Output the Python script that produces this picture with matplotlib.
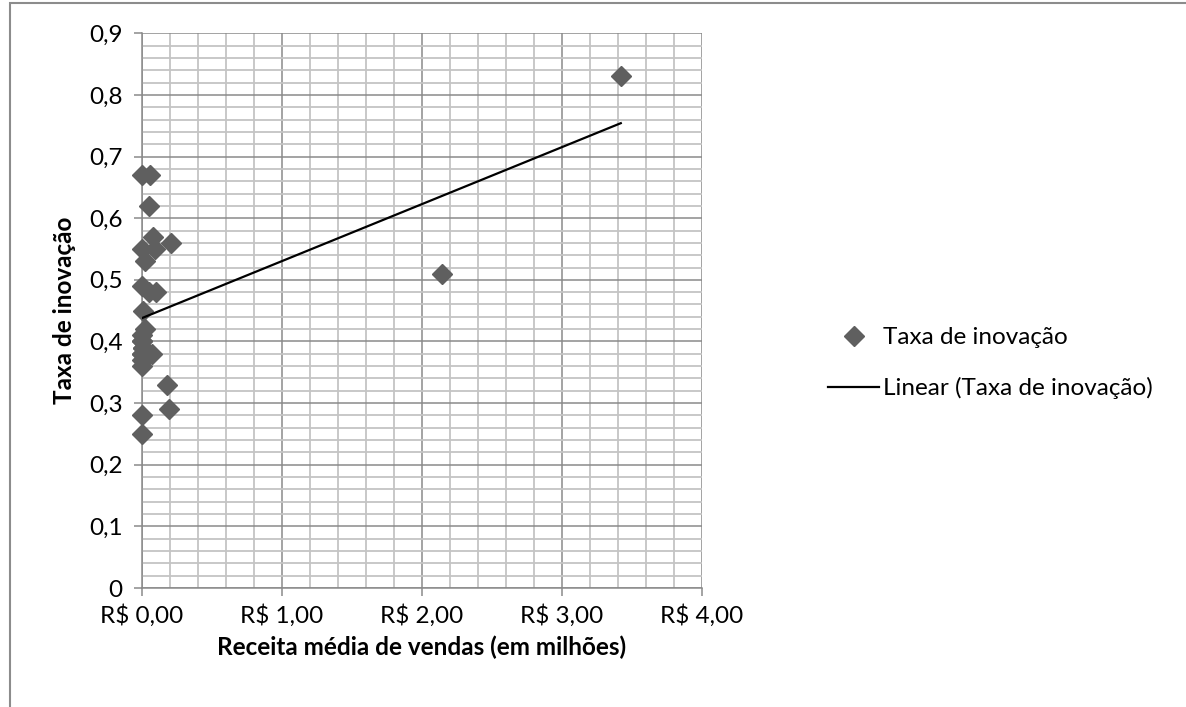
import numpy as np
import matplotlib
matplotlib.use("Agg")
import matplotlib.pyplot as plt
from matplotlib.ticker import MultipleLocator, FixedLocator, FixedFormatter
from matplotlib.patches import Rectangle

plt.rcParams['font.family'] = ['Lato', 'DejaVu Sans']

# receita média de vendas (R$ milhões) e taxa de inovação por empresa
receita = [0.00, 0.06, 0.05, 0.08, 0.21, 0.00, 0.09, 0.02, 0.00, 0.05,
           0.10, 0.01, 0.02, 0.00, 0.00, 0.01, 0.07, 0.00, 0.00, 0.00,
           0.18, 0.19, 0.00, 0.00, 0.00, 0.01, 0.00, 0.01, 2.14, 3.42]
taxa = [0.67, 0.67, 0.62, 0.57, 0.56, 0.55, 0.55, 0.53, 0.49, 0.48,
        0.48, 0.45, 0.42, 0.41, 0.40, 0.39, 0.38, 0.38, 0.37, 0.36,
        0.33, 0.29, 0.28, 0.25, 0.40, 0.39, 0.38, 0.37, 0.51, 0.83]

x_ticks = [0, 1, 2, 3, 4]
x_labels = ['R$ 0,00', 'R$ 1,00', 'R$ 2,00', 'R$ 3,00', 'R$ 4,00']
y_ticks = [0, 0.1, 0.2, 0.3, 0.4, 0.5, 0.6, 0.7, 0.8, 0.9]
y_labels = ['0', '0,1', '0,2', '0,3', '0,4', '0,5', '0,6', '0,7', '0,8', '0,9']

x = np.array(receita)
y = np.array(taxa)
slope, intercept = np.polyfit(x, y, 1)
xs = np.array([x.min(), x.max()])

fig = plt.figure(figsize=(11.86, 7.07), dpi=100)
ax = fig.add_axes([0.1197, 0.1683, 0.4722, 0.7846])

# moldura da área do gráfico
fig.patches.append(Rectangle((0.0085, -0.05), 1.2, 1.0456, transform=fig.transFigure,
                             fill=False, edgecolor='#8c8c8c', linewidth=1.5))

ax.set_xlim(0, 4)
ax.set_ylim(0, 0.9)
ax.xaxis.set_major_locator(FixedLocator(x_ticks))
ax.xaxis.set_major_formatter(FixedFormatter(x_labels))
ax.yaxis.set_major_locator(FixedLocator(y_ticks))
ax.yaxis.set_major_formatter(FixedFormatter(y_labels))
ax.xaxis.set_minor_locator(MultipleLocator(0.2))
ax.yaxis.set_minor_locator(MultipleLocator(0.02))

ax.grid(True, which='minor', color='#c4c4c4', linewidth=1.3)
ax.grid(True, which='major', color='#8a8a8a', linewidth=1.1)
ax.set_axisbelow(True)

for s in ['top', 'right']:
    ax.spines[s].set_visible(False)
for s in ['left', 'bottom']:
    ax.spines[s].set_color('#8a8a8a')
    ax.spines[s].set_linewidth(1.1)

fs = 17.5
ax.tick_params(which='major', length=6, width=1.1, color='#8a8a8a',
               labelsize=fs, labelcolor='black')
ax.tick_params(axis='y', which='major', pad=8)
ax.tick_params(axis='x', which='major', pad=6)
ax.tick_params(which='minor', length=0)

ax.plot(x, y, linestyle='none', marker='D', markersize=10.5,
        color='#5f5f5f', label='Taxa de inovação', zorder=3, clip_on=False)
ax.plot(xs, intercept + slope * xs, color='black', linewidth=1.6,
        label='Linear (Taxa de inovação)', zorder=4)

ax.set_xlabel('Receita média de vendas (em milhões)', fontsize=fs,
              fontweight='bold', labelpad=6)
ax.set_ylabel('Taxa de inovação', fontsize=fs, fontweight='bold', labelpad=9)

leg = ax.legend(loc='center left', bbox_to_anchor=(1.225, 0.405), frameon=False,
                fontsize=fs, handlelength=2.1, handletextpad=0.16,
                labelspacing=1.2, borderaxespad=0, borderpad=0)

fig.savefig('out.png', dpi=100)
